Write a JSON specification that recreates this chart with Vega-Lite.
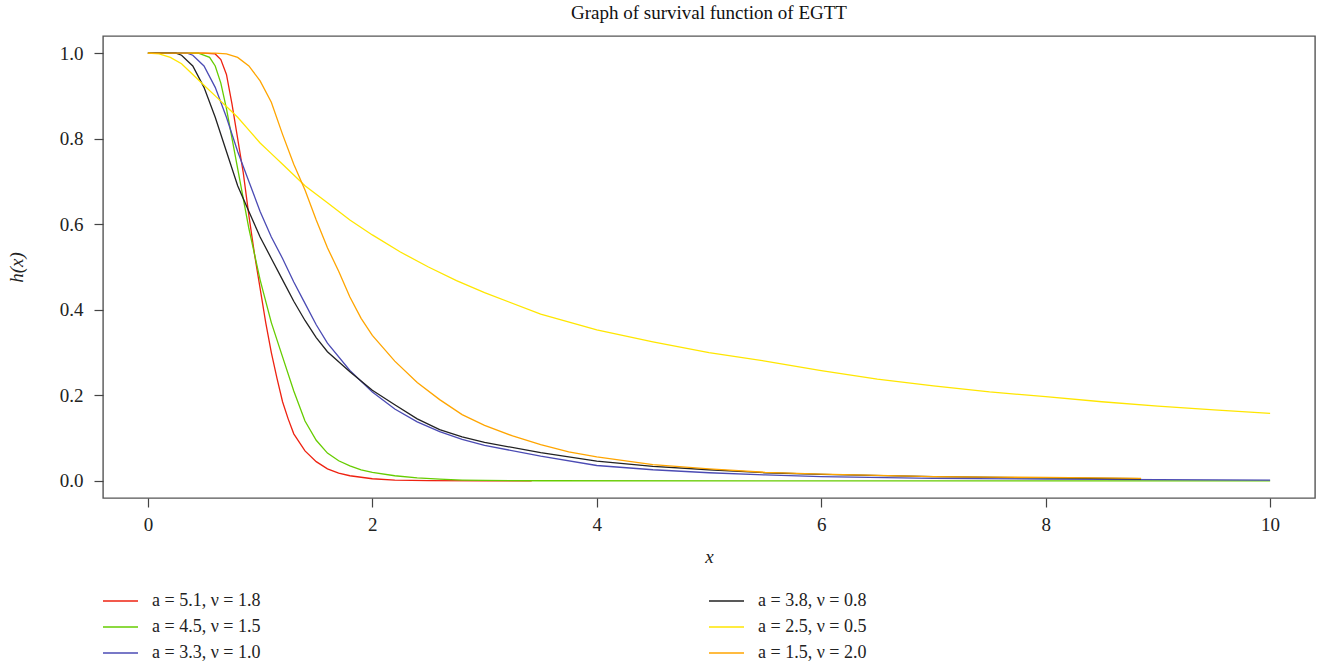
{
  "$schema": "https://vega.github.io/schema/vega-lite/v6.json",
  "width": 1212,
  "height": 462,
  "autosize": {"type": "none"},
  "padding": {"left": 103, "top": 36, "right": 4, "bottom": 167},
  "background": "white",
  "title": {"text": "Graph of survival function of EGTT", "font": "Liberation Serif", "fontSize": 19, "fontWeight": "normal", "color": "#111111", "offset": 13},
  "data": {"values": [
    {"s": "a = 5.1, ν = 1.8", "x": 0, "y": 1},
    {"s": "a = 5.1, ν = 1.8", "x": 0.5, "y": 1},
    {"s": "a = 5.1, ν = 1.8", "x": 0.6, "y": 0.998},
    {"s": "a = 5.1, ν = 1.8", "x": 0.65, "y": 0.985},
    {"s": "a = 5.1, ν = 1.8", "x": 0.7, "y": 0.95},
    {"s": "a = 5.1, ν = 1.8", "x": 0.75, "y": 0.88},
    {"s": "a = 5.1, ν = 1.8", "x": 0.8, "y": 0.8},
    {"s": "a = 5.1, ν = 1.8", "x": 0.85, "y": 0.72},
    {"s": "a = 5.1, ν = 1.8", "x": 0.9, "y": 0.62},
    {"s": "a = 5.1, ν = 1.8", "x": 0.95, "y": 0.53},
    {"s": "a = 5.1, ν = 1.8", "x": 1.0, "y": 0.45},
    {"s": "a = 5.1, ν = 1.8", "x": 1.05, "y": 0.37},
    {"s": "a = 5.1, ν = 1.8", "x": 1.1, "y": 0.3},
    {"s": "a = 5.1, ν = 1.8", "x": 1.15, "y": 0.24},
    {"s": "a = 5.1, ν = 1.8", "x": 1.2, "y": 0.185},
    {"s": "a = 5.1, ν = 1.8", "x": 1.25, "y": 0.145},
    {"s": "a = 5.1, ν = 1.8", "x": 1.3, "y": 0.11},
    {"s": "a = 5.1, ν = 1.8", "x": 1.4, "y": 0.07},
    {"s": "a = 5.1, ν = 1.8", "x": 1.5, "y": 0.045},
    {"s": "a = 5.1, ν = 1.8", "x": 1.6, "y": 0.028},
    {"s": "a = 5.1, ν = 1.8", "x": 1.7, "y": 0.018},
    {"s": "a = 5.1, ν = 1.8", "x": 1.8, "y": 0.012},
    {"s": "a = 5.1, ν = 1.8", "x": 2.0, "y": 0.005},
    {"s": "a = 5.1, ν = 1.8", "x": 2.2, "y": 0.002},
    {"s": "a = 5.1, ν = 1.8", "x": 2.5, "y": 0.0007},
    {"s": "a = 5.1, ν = 1.8", "x": 3.0, "y": 0.0002},
    {"s": "a = 5.1, ν = 1.8", "x": 3.42, "y": 0},

    {"s": "a = 4.5, ν = 1.5", "x": 0, "y": 1},
    {"s": "a = 4.5, ν = 1.5", "x": 0.45, "y": 1},
    {"s": "a = 4.5, ν = 1.5", "x": 0.55, "y": 0.99},
    {"s": "a = 4.5, ν = 1.5", "x": 0.6, "y": 0.97},
    {"s": "a = 4.5, ν = 1.5", "x": 0.65, "y": 0.93},
    {"s": "a = 4.5, ν = 1.5", "x": 0.7, "y": 0.87},
    {"s": "a = 4.5, ν = 1.5", "x": 0.75, "y": 0.8},
    {"s": "a = 4.5, ν = 1.5", "x": 0.8, "y": 0.73},
    {"s": "a = 4.5, ν = 1.5", "x": 0.85, "y": 0.66},
    {"s": "a = 4.5, ν = 1.5", "x": 0.9, "y": 0.59},
    {"s": "a = 4.5, ν = 1.5", "x": 0.95, "y": 0.53},
    {"s": "a = 4.5, ν = 1.5", "x": 1.0, "y": 0.47},
    {"s": "a = 4.5, ν = 1.5", "x": 1.1, "y": 0.37},
    {"s": "a = 4.5, ν = 1.5", "x": 1.2, "y": 0.29},
    {"s": "a = 4.5, ν = 1.5", "x": 1.3, "y": 0.21},
    {"s": "a = 4.5, ν = 1.5", "x": 1.4, "y": 0.14},
    {"s": "a = 4.5, ν = 1.5", "x": 1.5, "y": 0.095},
    {"s": "a = 4.5, ν = 1.5", "x": 1.6, "y": 0.065},
    {"s": "a = 4.5, ν = 1.5", "x": 1.7, "y": 0.047},
    {"s": "a = 4.5, ν = 1.5", "x": 1.8, "y": 0.035},
    {"s": "a = 4.5, ν = 1.5", "x": 1.9, "y": 0.026},
    {"s": "a = 4.5, ν = 1.5", "x": 2.0, "y": 0.02},
    {"s": "a = 4.5, ν = 1.5", "x": 2.2, "y": 0.012},
    {"s": "a = 4.5, ν = 1.5", "x": 2.4, "y": 0.007},
    {"s": "a = 4.5, ν = 1.5", "x": 2.6, "y": 0.004},
    {"s": "a = 4.5, ν = 1.5", "x": 2.8, "y": 0.002},
    {"s": "a = 4.5, ν = 1.5", "x": 3.0, "y": 0.001},
    {"s": "a = 4.5, ν = 1.5", "x": 3.5, "y": 0.0003},
    {"s": "a = 4.5, ν = 1.5", "x": 10, "y": 0},

    {"s": "a = 3.3, ν = 1.0", "x": 0, "y": 1},
    {"s": "a = 3.3, ν = 1.0", "x": 0.35, "y": 1},
    {"s": "a = 3.3, ν = 1.0", "x": 0.4, "y": 0.995},
    {"s": "a = 3.3, ν = 1.0", "x": 0.5, "y": 0.97},
    {"s": "a = 3.3, ν = 1.0", "x": 0.6, "y": 0.92},
    {"s": "a = 3.3, ν = 1.0", "x": 0.7, "y": 0.85},
    {"s": "a = 3.3, ν = 1.0", "x": 0.8, "y": 0.77},
    {"s": "a = 3.3, ν = 1.0", "x": 0.9, "y": 0.7},
    {"s": "a = 3.3, ν = 1.0", "x": 1.0, "y": 0.63},
    {"s": "a = 3.3, ν = 1.0", "x": 1.1, "y": 0.57},
    {"s": "a = 3.3, ν = 1.0", "x": 1.2, "y": 0.52},
    {"s": "a = 3.3, ν = 1.0", "x": 1.3, "y": 0.465},
    {"s": "a = 3.3, ν = 1.0", "x": 1.4, "y": 0.415},
    {"s": "a = 3.3, ν = 1.0", "x": 1.5, "y": 0.365},
    {"s": "a = 3.3, ν = 1.0", "x": 1.6, "y": 0.322},
    {"s": "a = 3.3, ν = 1.0", "x": 1.8, "y": 0.258},
    {"s": "a = 3.3, ν = 1.0", "x": 2.0, "y": 0.208},
    {"s": "a = 3.3, ν = 1.0", "x": 2.2, "y": 0.168},
    {"s": "a = 3.3, ν = 1.0", "x": 2.4, "y": 0.138},
    {"s": "a = 3.3, ν = 1.0", "x": 2.6, "y": 0.115},
    {"s": "a = 3.3, ν = 1.0", "x": 2.8, "y": 0.097},
    {"s": "a = 3.3, ν = 1.0", "x": 3.0, "y": 0.083},
    {"s": "a = 3.3, ν = 1.0", "x": 3.5, "y": 0.058},
    {"s": "a = 3.3, ν = 1.0", "x": 4.0, "y": 0.036},
    {"s": "a = 3.3, ν = 1.0", "x": 4.5, "y": 0.026},
    {"s": "a = 3.3, ν = 1.0", "x": 5.0, "y": 0.019},
    {"s": "a = 3.3, ν = 1.0", "x": 5.5, "y": 0.014},
    {"s": "a = 3.3, ν = 1.0", "x": 6.0, "y": 0.01},
    {"s": "a = 3.3, ν = 1.0", "x": 7.0, "y": 0.006},
    {"s": "a = 3.3, ν = 1.0", "x": 8.0, "y": 0.004},
    {"s": "a = 3.3, ν = 1.0", "x": 9.0, "y": 0.003},
    {"s": "a = 3.3, ν = 1.0", "x": 10, "y": 0.002},

    {"s": "a = 3.8, ν = 0.8", "x": 0, "y": 1},
    {"s": "a = 3.8, ν = 0.8", "x": 0.25, "y": 1},
    {"s": "a = 3.8, ν = 0.8", "x": 0.3, "y": 0.995},
    {"s": "a = 3.8, ν = 0.8", "x": 0.4, "y": 0.97},
    {"s": "a = 3.8, ν = 0.8", "x": 0.5, "y": 0.92},
    {"s": "a = 3.8, ν = 0.8", "x": 0.6, "y": 0.85},
    {"s": "a = 3.8, ν = 0.8", "x": 0.7, "y": 0.77},
    {"s": "a = 3.8, ν = 0.8", "x": 0.8, "y": 0.69},
    {"s": "a = 3.8, ν = 0.8", "x": 0.9, "y": 0.63},
    {"s": "a = 3.8, ν = 0.8", "x": 1.0, "y": 0.57},
    {"s": "a = 3.8, ν = 0.8", "x": 1.1, "y": 0.52},
    {"s": "a = 3.8, ν = 0.8", "x": 1.2, "y": 0.47},
    {"s": "a = 3.8, ν = 0.8", "x": 1.3, "y": 0.42},
    {"s": "a = 3.8, ν = 0.8", "x": 1.4, "y": 0.375},
    {"s": "a = 3.8, ν = 0.8", "x": 1.5, "y": 0.335},
    {"s": "a = 3.8, ν = 0.8", "x": 1.6, "y": 0.302},
    {"s": "a = 3.8, ν = 0.8", "x": 1.8, "y": 0.255},
    {"s": "a = 3.8, ν = 0.8", "x": 2.0, "y": 0.212},
    {"s": "a = 3.8, ν = 0.8", "x": 2.2, "y": 0.178},
    {"s": "a = 3.8, ν = 0.8", "x": 2.4, "y": 0.145},
    {"s": "a = 3.8, ν = 0.8", "x": 2.6, "y": 0.12},
    {"s": "a = 3.8, ν = 0.8", "x": 2.8, "y": 0.103},
    {"s": "a = 3.8, ν = 0.8", "x": 3.0, "y": 0.09},
    {"s": "a = 3.8, ν = 0.8", "x": 3.5, "y": 0.066},
    {"s": "a = 3.8, ν = 0.8", "x": 4.0, "y": 0.046},
    {"s": "a = 3.8, ν = 0.8", "x": 4.5, "y": 0.034},
    {"s": "a = 3.8, ν = 0.8", "x": 5.0, "y": 0.026},
    {"s": "a = 3.8, ν = 0.8", "x": 5.5, "y": 0.019},
    {"s": "a = 3.8, ν = 0.8", "x": 6.0, "y": 0.015},
    {"s": "a = 3.8, ν = 0.8", "x": 7.0, "y": 0.01},
    {"s": "a = 3.8, ν = 0.8", "x": 8.0, "y": 0.007},
    {"s": "a = 3.8, ν = 0.8", "x": 8.85, "y": 0.005},

    {"s": "a = 2.5, ν = 0.5", "x": 0, "y": 1},
    {"s": "a = 2.5, ν = 0.5", "x": 0.1, "y": 0.998},
    {"s": "a = 2.5, ν = 0.5", "x": 0.2, "y": 0.99},
    {"s": "a = 2.5, ν = 0.5", "x": 0.3, "y": 0.975},
    {"s": "a = 2.5, ν = 0.5", "x": 0.4, "y": 0.95},
    {"s": "a = 2.5, ν = 0.5", "x": 0.5, "y": 0.925},
    {"s": "a = 2.5, ν = 0.5", "x": 0.6, "y": 0.9},
    {"s": "a = 2.5, ν = 0.5", "x": 0.7, "y": 0.875},
    {"s": "a = 2.5, ν = 0.5", "x": 0.8, "y": 0.85},
    {"s": "a = 2.5, ν = 0.5", "x": 0.9, "y": 0.82},
    {"s": "a = 2.5, ν = 0.5", "x": 1.0, "y": 0.79},
    {"s": "a = 2.5, ν = 0.5", "x": 1.1, "y": 0.765},
    {"s": "a = 2.5, ν = 0.5", "x": 1.2, "y": 0.74},
    {"s": "a = 2.5, ν = 0.5", "x": 1.3, "y": 0.715},
    {"s": "a = 2.5, ν = 0.5", "x": 1.4, "y": 0.69},
    {"s": "a = 2.5, ν = 0.5", "x": 1.6, "y": 0.65},
    {"s": "a = 2.5, ν = 0.5", "x": 1.8, "y": 0.61},
    {"s": "a = 2.5, ν = 0.5", "x": 2.0, "y": 0.575},
    {"s": "a = 2.5, ν = 0.5", "x": 2.25, "y": 0.535},
    {"s": "a = 2.5, ν = 0.5", "x": 2.5, "y": 0.5},
    {"s": "a = 2.5, ν = 0.5", "x": 2.75, "y": 0.468},
    {"s": "a = 2.5, ν = 0.5", "x": 3.0, "y": 0.44},
    {"s": "a = 2.5, ν = 0.5", "x": 3.5, "y": 0.39},
    {"s": "a = 2.5, ν = 0.5", "x": 4.0, "y": 0.353},
    {"s": "a = 2.5, ν = 0.5", "x": 4.5, "y": 0.325},
    {"s": "a = 2.5, ν = 0.5", "x": 5.0, "y": 0.3},
    {"s": "a = 2.5, ν = 0.5", "x": 5.5, "y": 0.28},
    {"s": "a = 2.5, ν = 0.5", "x": 6.0, "y": 0.258},
    {"s": "a = 2.5, ν = 0.5", "x": 6.5, "y": 0.238},
    {"s": "a = 2.5, ν = 0.5", "x": 7.0, "y": 0.222},
    {"s": "a = 2.5, ν = 0.5", "x": 7.5, "y": 0.208},
    {"s": "a = 2.5, ν = 0.5", "x": 8.0, "y": 0.197},
    {"s": "a = 2.5, ν = 0.5", "x": 8.5, "y": 0.185},
    {"s": "a = 2.5, ν = 0.5", "x": 9.0, "y": 0.175},
    {"s": "a = 2.5, ν = 0.5", "x": 9.5, "y": 0.166},
    {"s": "a = 2.5, ν = 0.5", "x": 10, "y": 0.158},

    {"s": "a = 1.5, ν = 2.0", "x": 0, "y": 1},
    {"s": "a = 1.5, ν = 2.0", "x": 0.6, "y": 1},
    {"s": "a = 1.5, ν = 2.0", "x": 0.7, "y": 0.998},
    {"s": "a = 1.5, ν = 2.0", "x": 0.8, "y": 0.99},
    {"s": "a = 1.5, ν = 2.0", "x": 0.9, "y": 0.97},
    {"s": "a = 1.5, ν = 2.0", "x": 1.0, "y": 0.935},
    {"s": "a = 1.5, ν = 2.0", "x": 1.1, "y": 0.885},
    {"s": "a = 1.5, ν = 2.0", "x": 1.2, "y": 0.81},
    {"s": "a = 1.5, ν = 2.0", "x": 1.3, "y": 0.74},
    {"s": "a = 1.5, ν = 2.0", "x": 1.4, "y": 0.68},
    {"s": "a = 1.5, ν = 2.0", "x": 1.5, "y": 0.61},
    {"s": "a = 1.5, ν = 2.0", "x": 1.6, "y": 0.545},
    {"s": "a = 1.5, ν = 2.0", "x": 1.7, "y": 0.49},
    {"s": "a = 1.5, ν = 2.0", "x": 1.8, "y": 0.43},
    {"s": "a = 1.5, ν = 2.0", "x": 1.9, "y": 0.38},
    {"s": "a = 1.5, ν = 2.0", "x": 2.0, "y": 0.34},
    {"s": "a = 1.5, ν = 2.0", "x": 2.2, "y": 0.28},
    {"s": "a = 1.5, ν = 2.0", "x": 2.4, "y": 0.23},
    {"s": "a = 1.5, ν = 2.0", "x": 2.6, "y": 0.19},
    {"s": "a = 1.5, ν = 2.0", "x": 2.8, "y": 0.155},
    {"s": "a = 1.5, ν = 2.0", "x": 3.0, "y": 0.13},
    {"s": "a = 1.5, ν = 2.0", "x": 3.25, "y": 0.105},
    {"s": "a = 1.5, ν = 2.0", "x": 3.5, "y": 0.085},
    {"s": "a = 1.5, ν = 2.0", "x": 3.75, "y": 0.068},
    {"s": "a = 1.5, ν = 2.0", "x": 4.0, "y": 0.056},
    {"s": "a = 1.5, ν = 2.0", "x": 4.5, "y": 0.038},
    {"s": "a = 1.5, ν = 2.0", "x": 5.0, "y": 0.028},
    {"s": "a = 1.5, ν = 2.0", "x": 5.5, "y": 0.02},
    {"s": "a = 1.5, ν = 2.0", "x": 6.0, "y": 0.016},
    {"s": "a = 1.5, ν = 2.0", "x": 6.5, "y": 0.013},
    {"s": "a = 1.5, ν = 2.0", "x": 7.0, "y": 0.01},
    {"s": "a = 1.5, ν = 2.0", "x": 7.5, "y": 0.009},
    {"s": "a = 1.5, ν = 2.0", "x": 8.0, "y": 0.008},
    {"s": "a = 1.5, ν = 2.0", "x": 8.85, "y": 0.006}
  ]},
  "mark": {"type": "line", "strokeWidth": 1.3, "clip": true},
  "encoding": {
    "x": {
      "field": "x", "type": "quantitative",
      "scale": {"domain": [-0.4, 10.4], "nice": false, "zero": false},
      "axis": {"values": [0, 2, 4, 6, 8, 10], "title": "x", "titlePadding": 13, "labelPadding": 8}
    },
    "y": {
      "field": "y", "type": "quantitative",
      "scale": {"domain": [-0.04, 1.04], "nice": false, "zero": false},
      "axis": {"values": [0, 0.2, 0.4, 0.6, 0.8, 1.0], "format": ".1f", "title": "h(x)", "titlePadding": 33, "labelPadding": 11}
    },
    "color": {
      "field": "s", "type": "nominal",
      "scale": {
        "domain": ["a = 5.1, ν = 1.8", "a = 3.8, ν = 0.8", "a = 4.5, ν = 1.5", "a = 2.5, ν = 0.5", "a = 3.3, ν = 1.0", "a = 1.5, ν = 2.0"],
        "range": ["#ee2211", "#222222", "#66cc00", "#ffe600", "#4b4bb4", "#ffa500"]
      },
      "legend": {
        "title": null, "orient": "none", "legendX": -1, "legendY": 552,
        "direction": "horizontal", "columns": 2, "columnPadding": 447, "rowPadding": 0, "clipHeight": 26,
        "symbolType": "stroke", "symbolSize": 1225, "symbolStrokeWidth": 1.3,
        "labelFont": "Liberation Serif", "labelFontSize": 18, "labelColor": "#222222", "labelOffset": 13, "labelLimit": 300
      }
    }
  },
  "config": {
    "view": {"stroke": "#555555", "strokeWidth": 1.4},
    "axis": {
      "domain": false, "grid": false,
      "tickColor": "#444444", "tickSize": 9, "tickWidth": 1.2,
      "labelFont": "Liberation Serif", "labelFontSize": 19, "labelColor": "#222222",
      "titleFont": "Liberation Serif", "titleFontStyle": "italic", "titleFontWeight": "normal", "titleFontSize": 19, "titleColor": "#222222"
    }
  }
}
